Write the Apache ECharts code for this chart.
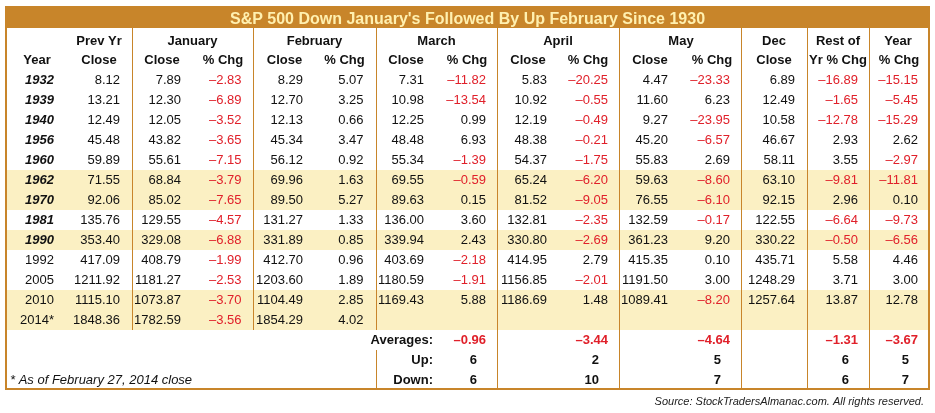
<!DOCTYPE html>
<html>
<head>
<meta charset="utf-8">
<script src="https://cdn.jsdelivr.net/npm/echarts@6/dist/echarts.min.js"></script>
<style>
html,body{margin:0;padding:0;background:#fff;}
#chart{width:935px;height:413px;}
</style>
</head>
<body>
<div id="chart"></div>
<script>
// ---------------- DATA ----------------
const title = "S&P 500 Down January's Followed By Up February Since 1930";
const years = ['1932','1939','1940','1956','1960','1962','1970','1981','1990','1992','2005','2010','2014*'];
const boldYears = ['1932','1939','1940','1956','1960','1962','1970','1981','1990'];
const highlightYears = ['1962','1970','1990','2010','2014*'];

const prevClose = [8.12,13.21,12.49,45.48,59.89,71.55,92.06,135.76,353.40,417.09,1211.92,1115.10,1848.36];
const janClose  = [7.89,12.30,12.05,43.82,55.61,68.84,85.02,129.55,329.08,408.79,1181.27,1073.87,1782.59];
const janChg    = [-2.83,-6.89,-3.52,-3.65,-7.15,-3.79,-7.65,-4.57,-6.88,-1.99,-2.53,-3.70,-3.56];
const febClose  = [8.29,12.70,12.13,45.34,56.12,69.96,89.50,131.27,331.89,412.70,1203.60,1104.49,1854.29];
const febChg    = [5.07,3.25,0.66,3.47,0.92,1.63,5.27,1.33,0.85,0.96,1.89,2.85,4.02];
const marClose  = [7.31,10.98,12.25,48.48,55.34,69.55,89.63,136.00,339.94,403.69,1180.59,1169.43,null];
const marChg    = [-11.82,-13.54,0.99,6.93,-1.39,-0.59,0.15,3.60,2.43,-2.18,-1.91,5.88,null];
const aprClose  = [5.83,10.92,12.19,48.38,54.37,65.24,81.52,132.81,330.80,414.95,1156.85,1186.69,null];
const aprChg    = [-20.25,-0.55,-0.49,-0.21,-1.75,-6.20,-9.05,-2.35,-2.69,2.79,-2.01,1.48,null];
const mayClose  = [4.47,11.60,9.27,45.20,55.83,59.63,76.55,132.59,361.23,415.35,1191.50,1089.41,null];
const mayChg    = [-23.33,6.23,-23.95,-6.57,2.69,-8.60,-6.10,-0.17,9.20,0.10,3.00,-8.20,null];
const decClose  = [6.89,12.49,10.58,46.67,58.11,63.10,92.15,122.55,330.22,435.71,1248.29,1257.64,null];
const restChg   = [-16.89,-1.65,-12.78,2.93,3.55,-9.81,2.96,-6.64,-0.50,5.58,3.71,13.87,null];
const yearChg   = [-15.15,-5.45,-15.29,2.62,-2.97,-11.81,0.10,-9.73,-6.56,4.46,3.00,12.78,null];

const groupHeaders = ['Prev Yr','January','February','March','April','May','Dec','Rest of','Year'];
const subHeaders   = ['Year','Close','Close','% Chg','Close','% Chg','Close','% Chg','Close','% Chg','Close','% Chg','Close','Yr % Chg','% Chg'];

const summaryLabels = ['Averages:','Up:','Down:'];
const avgChg    = [-0.96,-3.44,-4.64,-1.31,-3.67];
const upCount   = [6,2,5,6,5];
const downCount = [6,10,7,6,7];

const footnote = '* As of February 27, 2014 close';
const sourceText = 'Source: StockTradersAlmanac.com. All rights reserved.';

// ---------------- LAYOUT / STYLE ----------------
const FAM = '"Liberation Sans", Arial, Helvetica, sans-serif';
const F_N  = '13px ' + FAM;
const F_B  = 'bold 13px ' + FAM;
const F_BI = 'italic bold 13px ' + FAM;
const F_I  = 'italic 13px ' + FAM;
const F_T  = 'bold 16px ' + FAM;
const F_S  = 'italic 11px ' + FAM;
const INK = '#111111', RED = '#E0202A', ORANGE = '#C8852A', TITLE_FILL = '#FFF0B0', HILITE = '#FBF0C3';

// column anchors (x in page px units on the hidden x axis)
const colRight  = [54,120,181,241.5,303,363.5,424,486,547,608,668,730,795,858,918];
const colCenter = [37,99,162,223,284.5,344.5,406,467,528,588,650,712,774,838,899];
const groupCenter = [99,192.5,314.5,436.5,558,681,774,838,898];
const dataCols = [prevClose,janClose,janChg,febClose,febChg,marClose,marChg,aprClose,aprChg,mayClose,mayChg,decClose,restChg,yearChg];
const chgCols  = [false,false,true,false,true,false,true,false,true,false,true,false,true,true];
const summaryCols = [7,9,11,13,14]; // which columns the summary values sit under
const TABLE_L = 6, TABLE_R = 929;
const ROW_TITLE_TOP = -3.65, ROW_TITLE_BOT = -2.6, ROW_TABLE_BOT = 15.45;

function fmt(v){ return (v < 0 ? '\u2013' : '') + Math.abs(v).toFixed(2); }

// ---------------- BUILD CELLS ----------------
const cells = [];
function addText(x, r, text, align, color, font){ cells.push({x:x, r:r, text:String(text), align:align, color:color, font:font}); }

addText((TABLE_L+TABLE_R)/2, -3.03, title, 'center', TITLE_FILL, F_T);
groupHeaders.forEach((t,i)=> addText(groupCenter[i], -1.95, t, 'center', INK, F_B));
subHeaders.forEach((t,i)=> addText(colCenter[i], -0.96, t, 'center', INK, F_B));
years.forEach((y,r)=>{
  addText(colRight[0], r, y, 'right', INK, boldYears.indexOf(y) >= 0 ? F_BI : F_N);
  dataCols.forEach((arr,c)=>{
    const v = arr[r];
    if (v === null || v === undefined) return;
    addText(colRight[c+1], r, fmt(v), 'right', (chgCols[c] && v < 0) ? RED : INK, F_N);
  });
});
const sumRow0 = years.length;
summaryLabels.forEach((t,i)=> addText(433, sumRow0+i, t, 'right', INK, F_B));
summaryCols.forEach((c,i)=>{
  addText(colRight[c], sumRow0, fmt(avgChg[i]), 'right', avgChg[i] < 0 ? RED : INK, F_B);
  addText(colRight[c]-9, sumRow0+1, upCount[i], 'right', INK, F_B);
  addText(colRight[c]-9, sumRow0+2, downCount[i], 'right', INK, F_B);
});
addText(10, sumRow0+2, footnote, 'left', INK, F_I);
addText(924, 16.1, sourceText, 'right', '#222222', F_S);

// ---------------- BUILD SHAPES ----------------
const shapes = [];
highlightYears.forEach(y=>{ const r = years.indexOf(y); shapes.push({kind:'fill', x0:TABLE_L, x1:TABLE_R, r0:r-0.5, r1:r+0.5, color:HILITE}); });
shapes.push({kind:'fill', x0:TABLE_L, x1:TABLE_R, r0:ROW_TITLE_TOP, r1:ROW_TITLE_BOT, color:ORANGE});
const lastDataBot = years.length - 0.5;
const seps = [
  [132.5, ROW_TITLE_BOT, lastDataBot],
  [253.5, ROW_TITLE_BOT, lastDataBot],
  [376.5, ROW_TITLE_BOT, lastDataBot],
  [376.5, lastDataBot+1, ROW_TABLE_BOT],
  [497.5, ROW_TITLE_BOT, ROW_TABLE_BOT],
  [619.5, ROW_TITLE_BOT, ROW_TABLE_BOT],
  [741.5, ROW_TITLE_BOT, ROW_TABLE_BOT],
  [807.5, ROW_TITLE_BOT, ROW_TABLE_BOT],
  [869.5, ROW_TITLE_BOT, ROW_TABLE_BOT]
];
seps.forEach(s=> shapes.push({kind:'vline', x0:s[0], r0:s[1], r1:s[2], color:ORANGE, w:1}));
shapes.push({kind:'border', x0:TABLE_L, x1:TABLE_R, r0:ROW_TITLE_TOP, r1:ROW_TABLE_BOT, color:ORANGE, w:2});

// ---------------- CHART ----------------
const chart = echarts.init(document.getElementById('chart'), null, {renderer:'canvas'});

function renderShape(params, api){
  const s = shapes[params.dataIndex];
  if (s.kind === 'vline'){
    const a = api.coord([s.x0, s.r0]), b = api.coord([s.x0, s.r1]);
    return {type:'line', shape:{x1:a[0], y1:a[1], x2:b[0], y2:b[1]}, style:{stroke:s.color, lineWidth:s.w}};
  }
  const a = api.coord([s.x0, s.r0]), b = api.coord([s.x1, s.r1]);
  const shape = {x:a[0], y:a[1], width:b[0]-a[0], height:b[1]-a[1]};
  if (s.kind === 'fill') return {type:'rect', shape:shape, style:{fill:s.color}};
  return {type:'rect', shape:shape, style:{fill:'none', stroke:s.color, lineWidth:s.w}};
}
function renderText(params, api){
  const c = cells[params.dataIndex];
  const p = api.coord([api.value(0), api.value(1)]);
  return {type:'text', x:p[0], y:p[1], style:{text:c.text, fill:c.color, font:c.font,
    align:c.align, textAlign:c.align, verticalAlign:'middle', textVerticalAlign:'middle'}};
}

chart.setOption({
  animation:false,
  backgroundColor:'#ffffff',
  grid:{left:0, right:0, top:0, bottom:0},
  xAxis:{type:'value', min:0, max:935, show:false},
  yAxis:{type:'value', min:-4, max:16.65, inverse:true, show:false},
  series:[
    {type:'custom', silent:true, z:1, renderItem:renderShape, clip:false,
     data: shapes.map((s,i)=>[s.x0, s.r0, i])},
    {type:'custom', silent:true, z:2, renderItem:renderText, clip:false,
     data: cells.map((c,i)=>[c.x, c.r, i])}
  ]
});
</script>
</body>
</html>
